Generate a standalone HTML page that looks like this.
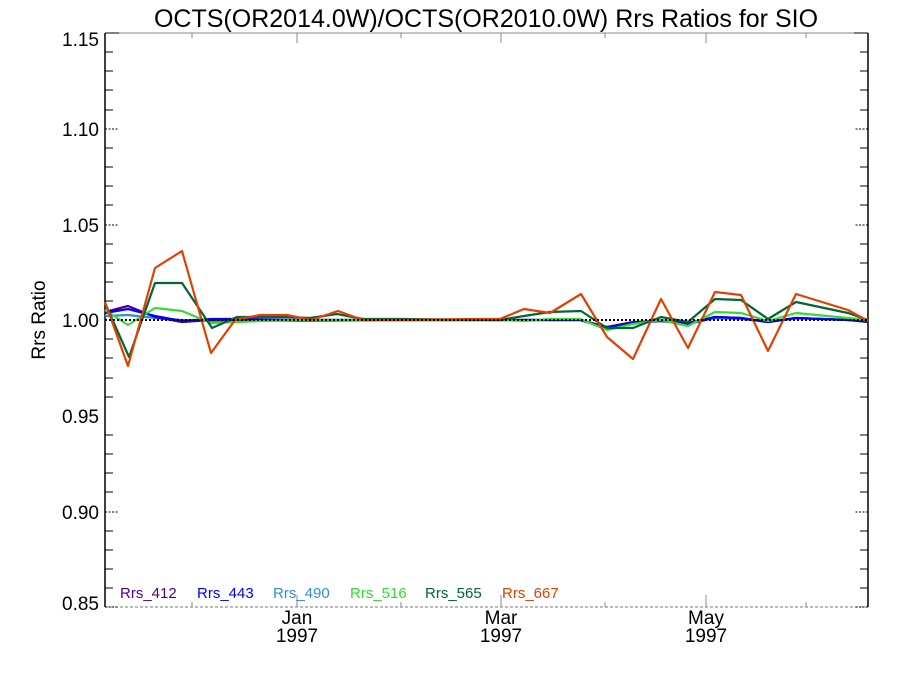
<!DOCTYPE html>
<html><head><style>
body{margin:0;background:#fff;}
svg{display:block;font-family:"Liberation Sans",Arial,sans-serif;}
</style></head><body>
<svg width="900" height="675" viewBox="0 0 900 675">
<rect width="900" height="675" fill="#fff"/>
<text x="486" y="27" font-size="25" text-anchor="middle">OCTS(OR2014.0W)/OCTS(OR2010.0W)  Rrs Ratios for SIO</text>
<line x1="105" y1="33" x2="868" y2="33" stroke="#888" stroke-width="1"/>
<line x1="105" y1="607" x2="868" y2="607" stroke="#777" stroke-width="1" stroke-dasharray="3,2"/>
<line x1="105" y1="33" x2="105" y2="607" stroke="#000" stroke-width="1.5"/>
<line x1="868" y1="33" x2="868" y2="607" stroke="#000" stroke-width="1.5"/>
<g stroke="#000" stroke-width="1">
<path d="M105 52h8M105 71h8M105 90h8M105 110h8M105 148h8M105 167h8M105 186h8M105 205h8M105 244h8M105 263h8M105 282h8M105 301h8M105 339h8M105 358h8M105 378h8M105 397h8M105 435h8M105 454h8M105 473h8M105 492h8M105 531h8M105 550h8M105 569h8M105 588h8M105 33h14"/>
<path d="M868 52h-8M868 71h-8M868 90h-8M868 110h-8M868 148h-8M868 167h-8M868 186h-8M868 205h-8M868 244h-8M868 263h-8M868 282h-8M868 301h-8M868 339h-8M868 358h-8M868 378h-8M868 397h-8M868 435h-8M868 454h-8M868 473h-8M868 492h-8M868 531h-8M868 550h-8M868 569h-8M868 588h-8M868 33h-14"/>
</g>
<g stroke="#000" stroke-width="1" stroke-dasharray="2,1.5">
<path d="M105 129h14M105 225h14M105 512h14M105 607h14M868 129h-14M868 225h-14M868 512h-14M868 607h-14"/>
</g>
<g stroke="#888" stroke-width="1">
<path d="M192 33v5M297 33v10M401 33v5M501 33v10M605 33v5M706 33v10M806 33v5"/>
<path d="M192 607v-5M297 607v-12M401 607v-5M501 607v-12M605 607v-5M706 607v-12M806 607v-5"/>
</g>
<g font-size="19" text-anchor="end">
<text x="99" y="46">1.15</text>
<text x="99" y="136">1.10</text>
<text x="99" y="232">1.05</text>
<text x="99" y="327">1.00</text>
<text x="99" y="423">0.95</text>
<text x="99" y="519">0.90</text>
<text x="99" y="610">0.85</text>
</g>
<g font-size="19" text-anchor="middle">
<text x="297" y="624">Jan</text><text x="297" y="642">1997</text>
<text x="501" y="624">Mar</text><text x="501" y="642">1997</text>
<text x="706" y="624">May</text><text x="706" y="642">1997</text>
</g>
<text transform="translate(45,320) rotate(-90)" font-size="19" text-anchor="middle">Rrs Ratio</text>
<g fill="none" stroke-width="2.2" stroke-linejoin="round">
<polyline stroke="#3090d0" points="105,316 128,315 155,318 182,320 211,321 237,320 300,321 400,320 500,320 550,320 580,320 607,327 633,323 661,320 688,324 715,318 741,319 768,322 796,318 848,320 868,321"/>
<polyline stroke="#4b0090" points="105,312 128,306 155,317 182,322 211,320 237,320 300,320 400,320 500,320 580,320 607,327 633,322 661,321 688,323 715,317 741,318 768,322 796,318 848,320 868,322"/>
<polyline stroke="#0000ff" points="105,313 128,309 155,316 182,321 211,319 237,319 300,320 400,320 500,320 580,320 607,328 633,323 661,321 688,324 715,317 741,318 768,322 796,318 848,320 868,321"/>
<polyline stroke="#33dd33" points="105,310 128,325 155,308 182,311 211,323 237,322 260,321 300,320 400,320 500,320 524,321 550,319 580,319 607,330 633,324 661,320 688,326 715,312 741,313 768,321 796,313 848,318 868,320"/>
<polyline stroke="#006633" points="105,303 129,357 155,283 182,283 212,328 237,317 260,317 287,317 310,318 337,314 363,319 400,319 500,320 524,316 550,312 581,311 607,328 633,328 661,317 688,322 715,299 741,300 768,319 796,302 848,313 868,320"/>
<polyline stroke="#e04000" points="105,302 128,366 155,268 182,251 211,353 235,320 260,315 287,315 311,320 338,311 363,320 400,320 475,319 500,319 524,309 550,313 581,294 607,337 633,359 661,299 688,348 715,292 741,295 768,351 796,294 848,310 868,321"/>
</g>
<line x1="105" y1="320" x2="868" y2="320" stroke="#000" stroke-width="2" stroke-dasharray="2,2"/>
<g font-size="15">
<text x="120" y="598" fill="#4b0090">Rrs_412</text>
<text x="197" y="598" fill="#0000ff">Rrs_443</text>
<text x="273" y="598" fill="#3090d0">Rrs_490</text>
<text x="350" y="598" fill="#33dd33">Rrs_516</text>
<text x="425" y="598" fill="#006633">Rrs_565</text>
<text x="502" y="598" fill="#e04000">Rrs_667</text>
</g>
</svg>
</body></html>
